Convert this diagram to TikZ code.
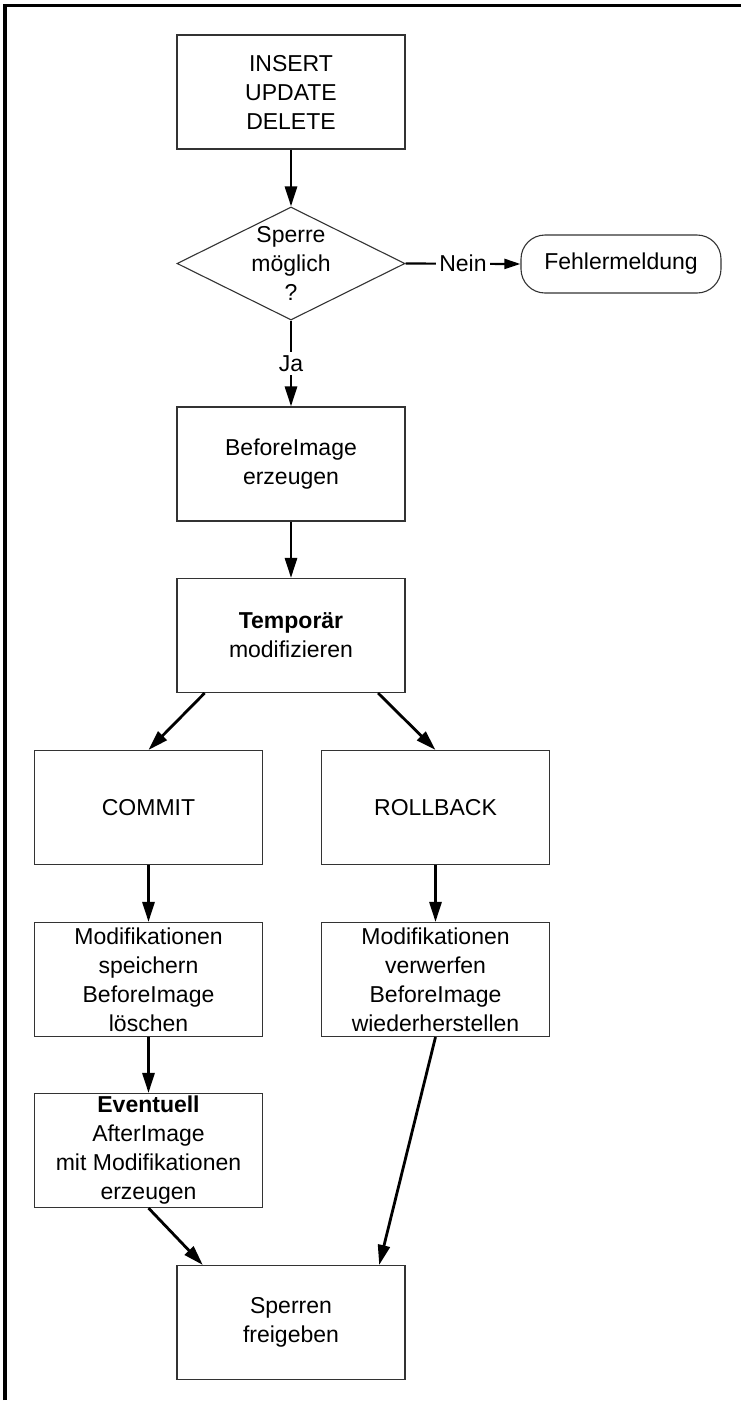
\documentclass[tikz,border=0pt]{standalone}
\usepackage{fontspec}
\setmainfont{Liberation Sans}
\usetikzlibrary{shapes.geometric, arrows.meta, positioning, calc}

\begin{document}
\begin{tikzpicture}[
    x=0.5pt, y=-0.5pt,
    proc/.style={draw=black!80, line width=0.55pt, minimum width=114pt, minimum height=57pt, inner sep=0pt, align=center, font=\fontsize{11.5}{14.5}\selectfont},
    decision/.style={draw=black!80, diamond, line width=0.55pt, minimum width=114pt, minimum height=56.5pt, inner sep=0pt},
    term/.style={draw=black!80, line width=0.55pt, rounded corners=12pt, minimum width=100pt, minimum height=29pt, font=\fontsize{11.5}{14.5}\selectfont},
    txt/.style={align=center, inner sep=0pt, font=\fontsize{11.5}{14.5}\selectfont},
    lbl/.style={fill=white, inner sep=1.5pt, font=\fontsize{11.5}{14.5}\selectfont},
    flow/.style={line width=1.4pt, -{Triangle[length=10pt, width=6pt]}},
    frame/.style={line width=1.6pt}
]
\useasboundingbox (0,0) rectangle (741,1405);
\draw[frame] (5,1400) -- (5,5.5) -- (741,5.5);
% main column
\node[proc] (ops) at (291,92) {INSERT\\UPDATE\\DELETE};
\node[decision] (lock) at (291,263.5) {};
\node[txt] (locktxt) at (lock.center) {Sperre\\möglich\\?};
\node[term] (err) at (621,264) {Fehlermeldung};
\node[proc] (before) at (291,464) {BeforeImage\\erzeugen};
\node[proc] (temp) at (291,635.5) {\textbf{Temporär}\\modifizieren};
% two branches
\node[proc] (commit) at (148.5,807.5) {COMMIT};
\node[proc] (rollback) at (435.5,807.5) {ROLLBACK};
\node[proc] (save) at (148.5,979.5) {Modifikationen\\speichern\\BeforeImage\\löschen};
\node[proc] (discard) at (435.5,979.5) {Modifikationen\\verwerfen\\BeforeImage\\wiederherstellen};
\node[proc] (after) at (148.5,1150.5) {\textbf{Eventuell}\\AfterImage\\mit Modifikationen\\erzeugen};
\node[proc] (release) at (291,1322.5) {Sperren\\freigeben};
% connectors
\draw[flow] (ops) -- (lock);
\draw[flow] (lock) -- node[lbl] (yes) {Ja} (before);
\draw[flow, line width=1.1pt, -{Triangle[length=8pt, width=5pt]}] (lock.east) -- node[lbl] (no) {Nein} (err.west);
\draw[flow] (before) -- (temp);
\draw[flow] ($(temp.south west)!0.123!(temp.south east)$) -- (commit.north);
\draw[flow] ($(temp.south west)!0.88!(temp.south east)$) -- (rollback.north);
\draw[flow] (commit) -- (save);
\draw[flow] (rollback) -- (discard);
\draw[flow] (save) -- (after);
\draw[flow] (after.south) -- ($(release.north west)!0.115!(release.north east)$);
\draw[flow] (discard.south) -- ($(release.north west)!0.885!(release.north east)$);
\end{tikzpicture}
\end{document}
